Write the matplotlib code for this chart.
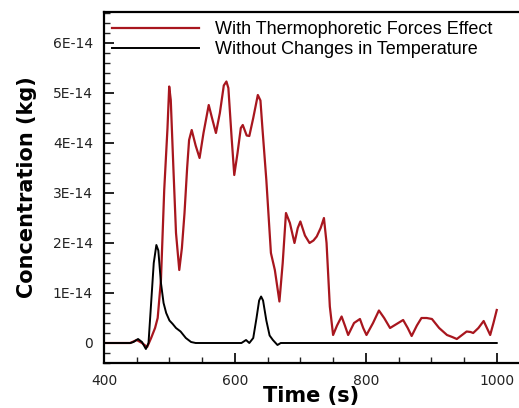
import matplotlib
matplotlib.use("Agg")
import matplotlib.pyplot as plt
from matplotlib.ticker import MultipleLocator, FixedLocator

plt.rcParams['font.family'] = ['DejaVu Sans']

# values, concentration in units of 1E-14 kg
t_thermo = [400, 440, 450, 458, 466, 472, 478, 482, 487, 492, 497, 499.6, 502, 506,
            510, 515, 519, 523, 527, 530, 534, 540, 546, 552, 560, 565, 571, 577,
            583, 587, 590, 595, 599, 604, 609, 612, 618, 622, 628, 635, 639, 642,
            648, 655, 661, 668, 673, 678, 684, 691, 696, 700, 707, 714, 720, 725,
            731, 736, 740, 745, 750, 756, 763, 768, 773, 782, 791, 796, 801, 811,
            820, 828, 837, 847, 857, 864, 870, 878, 885, 893, 901, 912, 924, 932,
            939, 947, 954, 960, 964, 972, 980, 985, 990, 995, 1000]
c_thermo = [0, 0, 0.06, 0.0, -0.08, 0.1, 0.3, 0.5, 1.26, 3.06, 4.3, 5.13, 4.86, 3.5,
            2.2, 1.46, 1.9, 2.6, 3.5, 4.06, 4.26, 3.95, 3.7, 4.2, 4.76, 4.5, 4.2, 4.6,
            5.15, 5.23, 5.1, 4.1, 3.36, 3.8, 4.3, 4.36, 4.15, 4.14, 4.5, 4.96, 4.85, 4.3,
            3.26, 1.8, 1.46, 0.83, 1.6, 2.6, 2.4, 2.0, 2.3, 2.43, 2.15, 2.0, 2.05, 2.13,
            2.3, 2.5, 2.0, 0.73, 0.16, 0.35, 0.53, 0.35, 0.16, 0.4, 0.48, 0.3, 0.16, 0.4,
            0.65, 0.5, 0.3, 0.38, 0.46, 0.3, 0.14, 0.35, 0.5, 0.5, 0.48, 0.3, 0.16, 0.12,
            0.08, 0.16, 0.23, 0.22, 0.2, 0.3, 0.44, 0.3, 0.16, 0.4, 0.66]

t_const = [400, 440, 445, 452, 458, 464, 468, 472, 476, 480, 483, 487, 491, 495, 500,
           505, 510, 517, 525, 533, 540, 610, 617, 622, 628, 633, 637, 640, 643, 648,
           653, 658, 665, 670, 1000]
c_const = [0, 0, 0.02, 0.08, 0.02, -0.12, 0.0, 0.8, 1.6, 1.96, 1.85, 1.2, 0.8, 0.6, 0.45,
           0.38, 0.3, 0.23, 0.1, 0.02, 0, 0, 0.06, 0.0, 0.1, 0.5, 0.85, 0.93, 0.85, 0.45,
           0.15, 0.06, -0.04, 0, 0]

ytick_vals = [0, 1, 2, 3, 4, 5, 6]
ytick_labels = ['0', '1E-14', '2E-14', '3E-14', '4E-14', '5E-14', '6E-14']

fig = plt.figure(figsize=(5.19, 4.08), dpi=100)
ax = fig.add_axes([104 / 519, 45 / 408, 1 - 104 / 519, 351 / 408])

ax.plot(t_thermo, c_thermo, color='#a8161e', lw=1.6, label='With Thermophoretic Forces Effect')
ax.plot(t_const, c_const, color='black', lw=1.4, label='Without Changes in Temperature')

ax.set_xlim(400, 1034)
ax.set_ylim(-0.4, 6.62)
ax.xaxis.set_major_locator(FixedLocator([400, 600, 800, 1000]))
ax.xaxis.set_minor_locator(MultipleLocator(50))
ax.yaxis.set_major_locator(FixedLocator(ytick_vals))
ax.set_yticklabels(ytick_labels)
ax.yaxis.set_minor_locator(MultipleLocator(0.2))

ax.tick_params(which='both', direction='in', width=1.4, labelsize=10, pad=8, colors='#222222')
ax.tick_params(which='major', length=7)
ax.tick_params(which='minor', length=4, width=1)
ax.tick_params(axis='x', top=False)
ax.tick_params(axis='y', right=False)
for s in ['left', 'bottom', 'top']:
    ax.spines[s].set_linewidth(1.6)
ax.spines['right'].set_visible(False)

ax.set_xlabel('Time (s)', fontsize=15, fontweight='bold')
ax.set_ylabel('Concentration (kg)', fontsize=15, fontweight='bold')
ax.xaxis.set_label_coords((311 - 104) / 415, -23 / 351)
ax.yaxis.set_label_coords((37 - 104) / 415, 0.5)

ax.legend(loc='upper left', bbox_to_anchor=(0.02, 0.974), frameon=False,
          prop={'family': 'Liberation Sans', 'size': 13},
          handlelength=4.8, handletextpad=0.9, labelspacing=0.15, borderpad=0,
          borderaxespad=0)

fig.savefig('out.png', dpi=100)
